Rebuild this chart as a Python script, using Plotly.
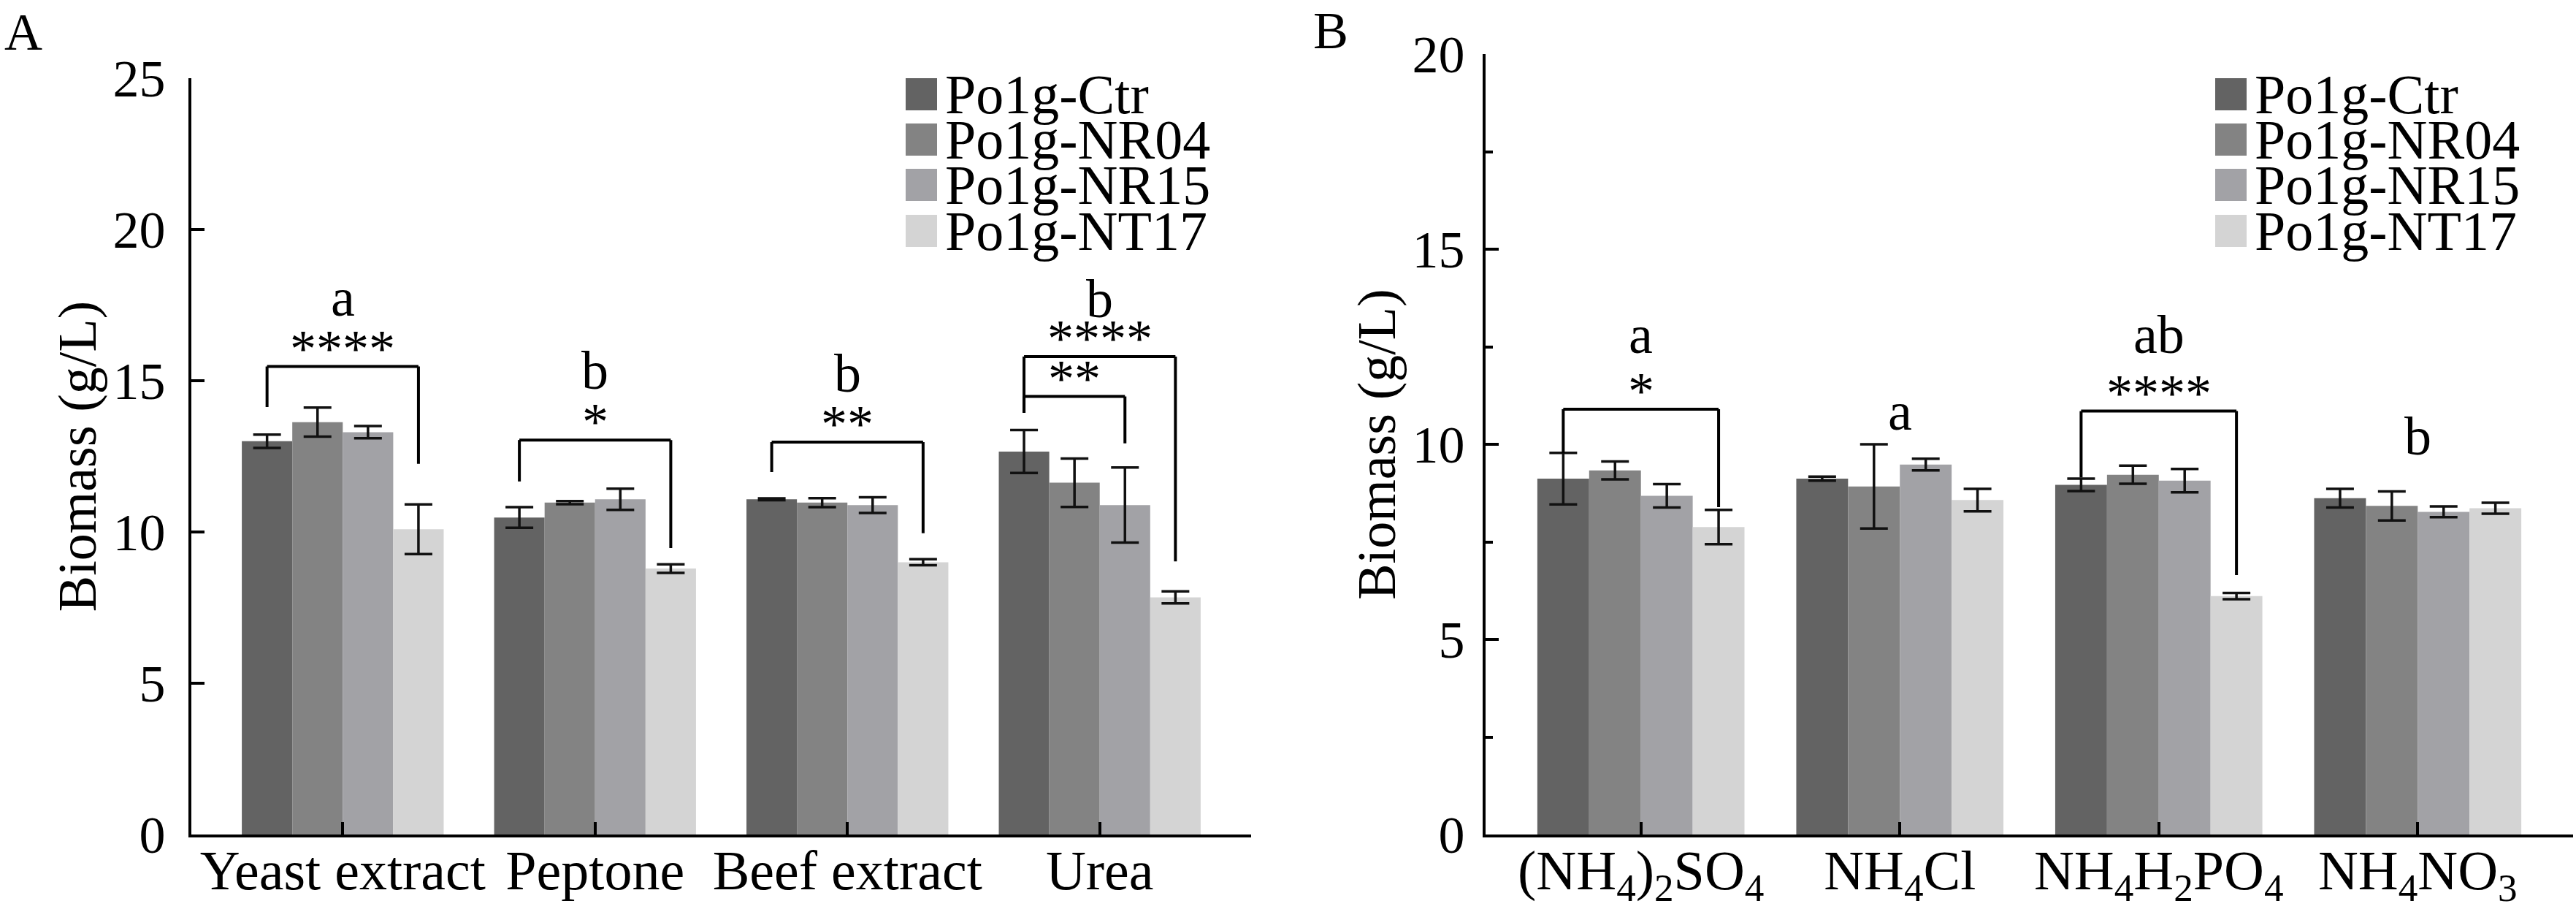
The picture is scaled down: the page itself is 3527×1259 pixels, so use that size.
# Biomass of Po1g strains on organic (A) and inorganic (B) nitrogen sources
import plotly.graph_objects as go
from plotly.subplots import make_subplots

# ---- data ----
strains = ["Po1g-Ctr", "Po1g-NR04", "Po1g-NR15", "Po1g-NT17"]
bar_colors = ["#636363", "#838383", "#a2a2a6", "#d4d4d4"]

categories_a = ["Yeast extract", "Peptone", "Beef extract", "Urea"]
categories_b = ["(NH<sub>4</sub>)<sub>2</sub>SO<sub>4</sub>", "NH<sub>4</sub>Cl",
                "NH<sub>4</sub>H<sub>2</sub>PO<sub>4</sub>", "NH<sub>4</sub>NO<sub>3</sub>"]

# one list per strain, values follow the category order
biomass_a = [
    [13.00, 10.48, 11.08, 12.66],
    [13.63, 10.97, 10.97, 11.63],
    [13.30, 11.08, 10.89, 10.89],
    [10.09, 8.79, 9.00, 7.84],
]
error_a = [
    [0.22, 0.34, 0.03, 0.71],
    [0.48, 0.05, 0.15, 0.80],
    [0.20, 0.35, 0.26, 1.24],
    [0.82, 0.14, 0.10, 0.20],
]
biomass_b = [
    [9.12, 9.12, 8.96, 8.62],
    [9.33, 8.92, 9.22, 8.42],
    [8.68, 9.48, 9.07, 8.27],
    [7.88, 8.57, 6.11, 8.36],
]
error_b = [
    [0.66, 0.05, 0.16, 0.24],
    [0.23, 1.08, 0.23, 0.37],
    [0.30, 0.15, 0.30, 0.14],
    [0.44, 0.29, 0.08, 0.14],
]

# significance brackets: category, left bar, right bar, top, left foot, right foot, stars
brackets_a = [
    (0, 0, 3, 15.47, 14.13, 12.25, "****"),
    (1, 0, 3, 13.04, 11.67, 9.47, "*"),
    (2, 0, 3, 12.97, 11.98, 9.96, "**"),
    (3, 0, 2, 14.48, 13.94, 12.93, "**"),
    (3, 0, 3, 15.80, 13.94, 9.03, "****"),
]
brackets_b = [
    (0, 0, 3, 10.90, 9.77, 8.39, "*"),
    (2, 0, 3, 10.85, 9.15, 6.65, "****"),
]
# group letters: category, text, baseline value
letters_a = [(0, "a", 17.12), (1, "b", 14.70), (2, "b", 14.62), (3, "b", 17.08)]
letters_b = [(0, "a", 12.32), (1, "a", 10.36), (2, "ab", 12.32), (3, "b", 9.72)]

FONT = "Liberation Serif"
W, H = 3527, 1259
BAR_OFFSETS = [-0.3, -0.1, 0.1, 0.3]


def px_x(p):
    return p / W


def px_y(p):
    return 1 - p / H


fig = make_subplots(rows=1, cols=2)

for col, (cats, vals, errs) in enumerate([(categories_a, biomass_a, error_a),
                                          (categories_b, biomass_b, error_b)], start=1):
    for i, name in enumerate(strains):
        fig.add_trace(go.Bar(
            x=cats, y=vals[i], name=name,
            marker=dict(color=bar_colors[i], line=dict(width=0)),
            error_y=dict(type="data", array=errs[i], color="#111111", thickness=3.5, width=19),
            showlegend=False,
        ), row=1, col=col)

fig.update_layout(barmode="group", bargap=0.2, bargroupgap=0)

# brackets, stars and letters
for col, brackets, letters in [(1, brackets_a, letters_a), (2, brackets_b, letters_b)]:
    xref = "x" if col == 1 else "x2"
    yref = "y" if col == 1 else "y2"
    for cat, lb, rb, top, yl, yr, stars in brackets:
        x1 = cat + BAR_OFFSETS[lb]
        x2 = cat + BAR_OFFSETS[rb]
        for seg in [(x1, yl, x1, top), (x1, top, x2, top), (x2, top, x2, yr)]:
            fig.add_shape(type="line", xref=xref, yref=yref,
                          x0=seg[0], y0=seg[1], x1=seg[2], y1=seg[3],
                          line=dict(color="black", width=4))
        fig.add_annotation(x=(x1 + x2) / 2, y=top, xref=xref, yref=yref, text=stars,
                           showarrow=False, yanchor="bottom", yshift=-17,
                           font=dict(family=FONT, size=72, color="black"))
    for cat, txt, base in letters:
        fig.add_annotation(x=cat, y=base, xref=xref, yref=yref, text=txt,
                           showarrow=False, yanchor="bottom", yshift=-17,
                           font=dict(family=FONT, size=74, color="black"))

# legends drawn by hand so the rows sit as tight as in the original
legend_rows = [129, 191, 253, 316]
for sq_left in [1240, 3033]:
    for i, name in enumerate(strains):
        yc = legend_rows[i]
        fig.add_shape(type="rect", xref="paper", yref="paper",
                      x0=px_x(sq_left), x1=px_x(sq_left + 43),
                      y0=px_y(yc + 22), y1=px_y(yc - 22),
                      fillcolor=bar_colors[i], line=dict(width=0))
        fig.add_annotation(x=px_x(sq_left + 52), y=px_y(yc), xref="paper", yref="paper",
                           text=name, showarrow=False, xanchor="left", yanchor="middle",
                           font=dict(family=FONT, size=76, color="black"))

# panel letters
fig.add_annotation(x=px_x(4), y=px_y(2), xref="paper", yref="paper", text="A",
                   showarrow=False, xanchor="left", yanchor="top",
                   font=dict(family=FONT, size=72, color="black"))
fig.add_annotation(x=px_x(1796), y=px_y(0), xref="paper", yref="paper", text="B",
                   showarrow=False, xanchor="left", yanchor="top",
                   font=dict(family=FONT, size=72, color="black"))

axis_common = dict(showline=True, linecolor="black", linewidth=4, ticks="inside",
                   tickcolor="black", showgrid=False, zeroline=False, automargin=False)

fig.update_xaxes(axis_common, tickwidth=3.5, ticklen=17, range=[-0.6, 3.6],
                 ticklabelstandoff=-20, tickfont=dict(family=FONT, size=76, color="black"))
fig.update_yaxes(axis_common, tickwidth=4, ticklen=18,
                 tickfont=dict(family=FONT, size=72, color="black"),
                 title=dict(text="Biomass (g/L)", font=dict(family=FONT, size=74, color="black"),
                            standoff=0))

fig.update_layout(
    xaxis=dict(domain=[px_x(262), px_x(1713)]),
    xaxis2=dict(domain=[px_x(2034), px_x(3523)]),
    yaxis=dict(domain=[px_y(1142), px_y(107)], range=[0, 25], dtick=5, ticklabelstandoff=17),
    yaxis2=dict(domain=[px_y(1142), px_y(74)], range=[0, 20], dtick=5, ticklabelstandoff=10,
                minor=dict(dtick=2.5, ticks="inside", ticklen=10, tickwidth=4, tickcolor="black")),
    width=W, height=H,
    margin=dict(l=0, r=0, t=0, b=0, autoexpand=False),
    paper_bgcolor="white", plot_bgcolor="white",
    font=dict(family=FONT, color="black"),
)

fig.write_html("out.html", config={"displayModeBar": False},
               post_script="document.body.style.margin='0';")
